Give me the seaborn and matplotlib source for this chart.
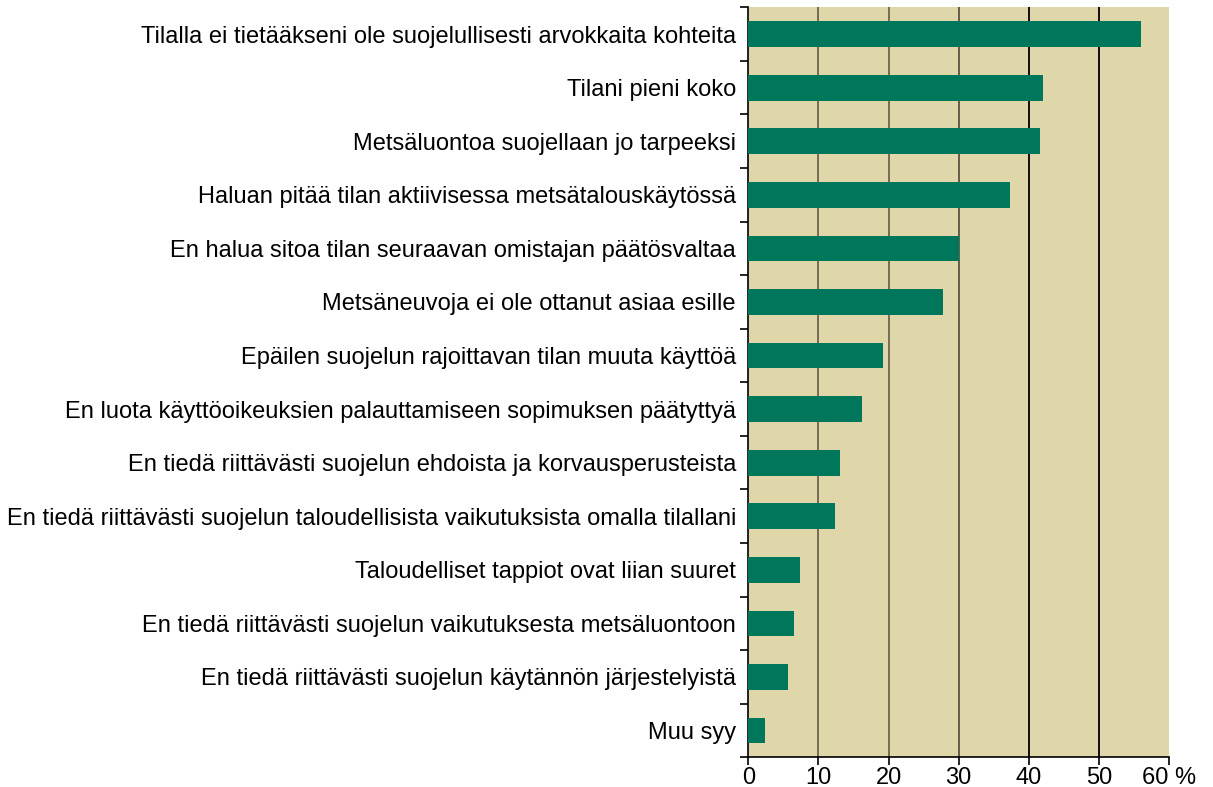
import numpy as np
import matplotlib
matplotlib.use('Agg')
import matplotlib.pyplot as plt
import seaborn as sns

# reasons, top to bottom, and share of respondents (%)
reasons = [
    'Tilalla ei tietääkseni ole suojelullisesti arvokkaita kohteita',
    'Tilani pieni koko',
    'Metsäluontoa suojellaan jo tarpeeksi',
    'Haluan pitää tilan aktiivisessa metsätalouskäytössä',
    'En halua sitoa tilan seuraavan omistajan päätösvaltaa',
    'Metsäneuvoja ei ole ottanut asiaa esille',
    'Epäilen suojelun rajoittavan tilan muuta käyttöä',
    'En luota käyttöoikeuksien palauttamiseen sopimuksen päätyttyä',
    'En tiedä riittävästi suojelun ehdoista ja korvausperusteista',
    'En tiedä riittävästi suojelun taloudellisista vaikutuksista omalla tilallani',
    'Taloudelliset tappiot ovat liian suuret',
    'En tiedä riittävästi suojelun vaikutuksesta metsäluontoon',
    'En tiedä riittävästi suojelun käytännön järjestelyistä',
    'Muu syy',
]
shares = [56.0, 42.0, 41.6, 37.4, 30.1, 27.7, 19.2, 16.2, 13.0, 12.3, 7.3, 6.5, 5.7, 2.3]
x_ticks = [0, 10, 20, 30, 40, 50, 60]
x_labels = ['0', '10', '20', '30', '40', '50', '60 %']

sns.set_style('white')
plt.rcParams['font.family'] = ['Liberation Sans', 'DejaVu Sans']
plt.rcParams['text.color'] = 'black'
plt.rcParams['xtick.color'] = 'black'
plt.rcParams['ytick.color'] = 'black'

fig = plt.figure(figsize=(12.13, 7.87), dpi=100)
ax = fig.add_axes([0.617, 0.0377, 0.3466, 0.953])
ax.set_facecolor('#dfd7aa')

sns.barplot(x=shares, y=reasons, orient='h', color='#00775a', saturation=1,
            width=0.48, linewidth=0, edgecolor='none', ax=ax, zorder=3)

# vertical grid lines
grid_colors = ['none', '#6b6450', '#6b6450', '#5a5445', 'black', 'black', 'none']
for xt, c in zip(x_ticks, grid_colors):
    if c != 'none':
        ax.axvline(xt, color=c, lw=1.3, zorder=1)

ax.set_xlim(0, 60)
ax.set_ylim(len(reasons) - 0.5, -0.5)
ax.set_xticks(x_ticks)
ax.set_xticklabels(x_labels)
ax.tick_params(axis='x', bottom=True, direction='out', length=6, width=1.2,
               color='black', labelcolor='black', labelsize=17, pad=1)
ax.tick_params(axis='y', which='major', left=False, length=0, labelsize=17,
               labelcolor='black', pad=9)
ax.set_yticks(np.arange(len(reasons) + 1) - 0.5, minor=True)
ax.tick_params(axis='y', which='minor', left=True, direction='out', length=6,
               width=1.2, color='black')

for side in ['top', 'right']:
    ax.spines[side].set_visible(False)
for side in ['left', 'bottom']:
    ax.spines[side].set_color('black')
    ax.spines[side].set_linewidth(1.2)
ax.set_xlabel('')
ax.set_ylabel('')

fig.savefig('out.png', dpi=100)
